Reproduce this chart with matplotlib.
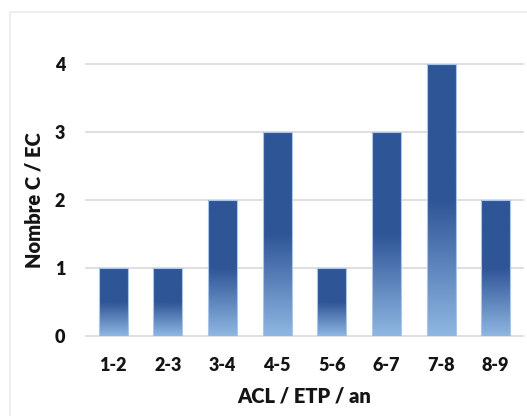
import numpy as np
import matplotlib.pyplot as plt
from matplotlib.colors import LinearSegmentedColormap
from matplotlib.patches import Rectangle

categories = ["1-2", "2-3", "3-4", "4-5", "5-6", "6-7", "7-8", "8-9"]
counts = [1, 1, 2, 3, 1, 3, 4, 2]

plt.rcParams['font.family'] = ['Lato', 'DejaVu Sans']
plt.rcParams['font.weight'] = 'bold'
plt.rcParams['axes.labelweight'] = 'bold'

fig = plt.figure(figsize=(5.27, 4.16), dpi=100)
ax = fig.add_axes([86 / 527, 80 / 416, 437 / 527, 272 / 416])

# light frame around the whole chart
fig.patches.append(Rectangle((9.5 / 527, -0.1), 1.2, 1 - 12.5 / 416 + 0.1,
                             transform=fig.transFigure, fill=False,
                             edgecolor='#ebebeb', linewidth=1.2))

x = np.arange(len(categories))
bars = ax.bar(x, counts, width=0.53, color='none', edgecolor='#a9c6e8',
              linewidth=0.8, zorder=3)

# vertical gradient: light at the base, dark blue from mid-height up
cmap = LinearSegmentedColormap.from_list(
    'bar', [(0.0, '#8fb7e2'), (0.5, '#2f5597'), (1.0, '#2e5596')])
grad = np.linspace(0, 1, 256).reshape(-1, 1)
for b in bars:
    x0, w, h = b.get_x(), b.get_width(), b.get_height()
    im = ax.imshow(grad, cmap=cmap, origin='lower', aspect='auto',
                   extent=[x0, x0 + w, 0, h], zorder=2)
    im.set_clip_path(b)

ax.set_xlim(-0.5, len(categories) - 0.5)
ax.set_ylim(0, 4)
ax.set_yticks([0, 1, 2, 3, 4])
ax.set_xticks(x)
ax.set_xticklabels(categories, fontweight='heavy')
ax.set_yticklabels(['0', '1', '2', '3', '4'], fontweight='heavy')
ax.yaxis.grid(True, color='#d9d9d9', linewidth=1.2, zorder=1)
for line in ax.get_ygridlines():
    line.set_clip_on(False)
ax.set_axisbelow(True)
for s in ax.spines.values():
    s.set_visible(False)
ax.tick_params(length=0, labelsize=13, labelcolor='#141414')
ax.tick_params(axis='y', pad=15)
ax.tick_params(axis='x', pad=15)

ax.set_xlabel("ACL / ETP / an", fontsize=14.5, fontweight='heavy',
              labelpad=9, color='#141414')
ax.set_ylabel("Nombre C / EC", fontsize=14.5, fontweight='heavy',
              labelpad=8, color='#141414')

fig.savefig("out.png", dpi=100, facecolor='white')
